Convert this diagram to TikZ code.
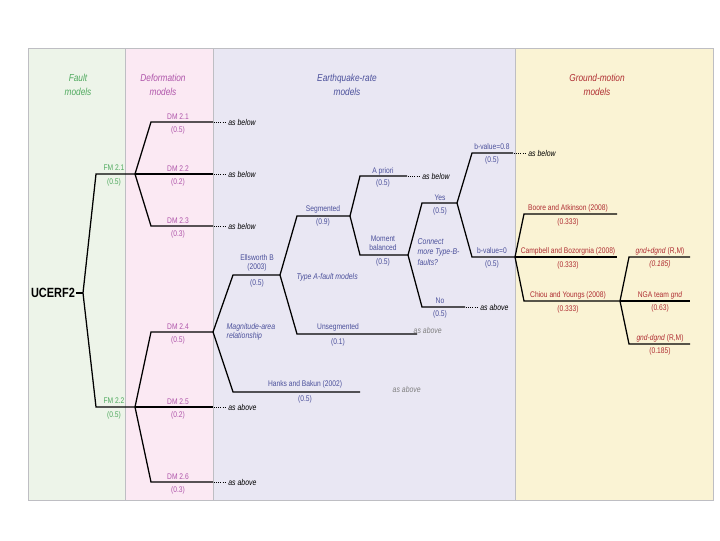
\documentclass[tikz,border=0pt]{standalone}
\usepackage{fontspec}
\setmainfont{Liberation Sans}[FakeStretch=0.82]
\usetikzlibrary{positioning}

%colori dei pannelli e dei testi
\definecolor{verdefondo}{RGB}{237,244,233}
\definecolor{rosafondo}{RGB}{251,233,243}
\definecolor{lilafondo}{RGB}{233,231,243}
\definecolor{giallofondo}{RGB}{250,243,212}
\definecolor{bordo}{RGB}{190,190,195}
\definecolor{verdetesto}{RGB}{80,170,95}
\definecolor{violatesto}{RGB}{175,85,170}
\definecolor{blutesto}{RGB}{75,80,155}
\definecolor{rossotesto}{RGB}{175,45,50}

\tikzset{
  ramo/.style={line width=0.9pt, black},
  etic/.style={font=\fontsize{5.8}{6.6}\selectfont, inner sep=0.3pt, align=center},
  titolo/.style={font=\fontsize{7.2}{9.5}\selectfont\itshape, align=center},
  nota/.style={font=\fontsize{6}{6.8}\selectfont\itshape, inner sep=0.3pt, anchor=west},
  puntini/.style={line width=0.6pt, dash pattern=on 0.5pt off 1pt},
}

\begin{document}
\begin{tikzpicture}[x=0.025cm, y=-0.025cm]
    \useasboundingbox (0,0) rectangle (720,540);

    %pannelli
    \draw[bordo, fill=verdefondo](28,48)rectangle(125,500);
    \draw[bordo, fill=rosafondo](125,48)rectangle(213,500);
    \draw[bordo, fill=lilafondo](213,48)rectangle(515,500);
    \draw[bordo, fill=giallofondo](515,48)rectangle(713,500);

    %titoli
    \node[titolo, verdetesto] (tfault) at (78,85) {Fault\\models};
    \node[titolo, violatesto] (tdef) at (163,85) {Deformation\\models};
    \node[titolo, blutesto] (teq) at (347,85) {Earthquake-rate\\models};
    \node[titolo, rossotesto] (tgm) at (597,85) {Ground-motion\\models};

    %radice
    \node[font=\fontsize{9.5}{10}\selectfont\bfseries, inner sep=0.5pt] (ucerf) at (53,293) {UCERF2};
    \coordinate (r) at (83,293);
    \draw[ramo](ucerf.east)--(r);

    %modelli di faglia
    \coordinate (fm1a) at (96,174); \coordinate (d1) at (135,174);
    \coordinate (fm2a) at (96,407); \coordinate (d2) at (135,407);
    \draw[ramo](r)--(fm1a)--(d1);
    \draw[ramo](r)--(fm2a)--(d2);
    \node[etic, verdetesto] (fm1) at (114,168) {FM 2.1};
    \node[etic, verdetesto] (fm1w) at (114,182) {(0.5)};
    \node[etic, verdetesto] (fm2) at (114,401) {FM 2.2};
    \node[etic, verdetesto] (fm2w) at (114,415) {(0.5)};

    %modelli di deformazione
    \coordinate (dm1a) at (151,122); \coordinate (dm1b) at (213,122);
    \coordinate (dm2b) at (213,174);
    \coordinate (dm3a) at (151,226); \coordinate (dm3b) at (213,226);
    \coordinate (dm4a) at (151,332); \coordinate (m) at (213,332);
    \coordinate (dm5b) at (213,407);
    \coordinate (dm6a) at (151,482); \coordinate (dm6b) at (213,482);
    \draw[ramo](d1)--(dm1a)--(dm1b);
    \draw[ramo](d1)--(dm2b);
    \draw[ramo](d1)--(dm3a)--(dm3b);
    \draw[ramo](d2)--(dm4a)--(m);
    \draw[ramo](d2)--(dm5b);
    \draw[ramo](d2)--(dm6a)--(dm6b);
    \foreach \n/\y/\w in {2.1/122/0.5, 2.2/174/0.2, 2.3/226/0.3, 2.4/332/0.5, 2.5/407/0.2, 2.6/482/0.3}{
        \node[etic, violatesto] at (178,\y-5.5) {DM \n};
        \node[etic, violatesto] at (178,\y+8.5) {(\w)};
    }
    %rimandi
    \foreach \p/\t in {dm1b/below, dm2b/below, dm3b/below, dm5b/above, dm6b/above}{
        \draw[puntini]([xshift=0.8pt]\p)--++(12,0) node[nota, xshift=1pt] {as \t};
    }

    %relazione magnitudo-area
    \coordinate (ea) at (233,275); \coordinate (t) at (280,275);
    \coordinate (ha) at (233,392); \coordinate (hb) at (360,392);
    \draw[ramo](m)--(ea)--(t);
    \draw[ramo](m)--(ha)--(hb);
    \node[etic, blutesto, anchor=west, font=\fontsize{6}{6.8}\selectfont\itshape, align=left] (magarea) at (226,332) {Magnitude-area\\relationship};
    \node[etic, blutesto] (ells) at (257,263) {Ellsworth B\\(2003)};
    \node[etic, blutesto] (ellsw) at (257,283) {(0.5)};
    \node[etic, blutesto] (hanks) at (305,384) {Hanks and Bakun (2002)};
    \node[etic, blutesto] (hanksw) at (305,399) {(0.5)};
    \node[nota, gray] (hanksn) at (392,389) {as above};

    %modelli faglie di tipo A
    \coordinate (sa) at (297,216); \coordinate (s) at (350,216);
    \coordinate (ua) at (297,334); \coordinate (ub) at (417,334);
    \draw[ramo](t)--(sa)--(s);
    \draw[ramo](t)--(ua)--(ub);
    \node[etic, blutesto, anchor=west, font=\fontsize{6}{6.8}\selectfont\itshape] (tipoa) at (296,277) {Type A-fault models};
    \node[etic, blutesto] (seg) at (323,209) {Segmented};
    \node[etic, blutesto] (segw) at (323,222) {(0.9)};
    \node[etic, blutesto] (unseg) at (338,327) {Unsegmented};
    \node[etic, blutesto] (unsegw) at (338,342) {(0.1)};
    \node[nota, gray] (unsegn) at (413,330) {as above};

    %a priori / bilanciato
    \coordinate (apa) at (360,176); \coordinate (apb) at (407,176);
    \coordinate (mba) at (360,255); \coordinate (mb) at (408,255);
    \draw[ramo](s)--(apa)--(apb);
    \draw[ramo](s)--(mba)--(mb);
    \node[etic, blutesto] (ap) at (383,171) {A priori};
    \node[etic, blutesto] (apw) at (383,183) {(0.5)};
    \node[etic, blutesto] (mom) at (383,243) {Moment\\balanced};
    \node[etic, blutesto] (momw) at (383,262) {(0.5)};
    \draw[puntini]([xshift=0.8pt]apb)--++(12,0) node[nota, xshift=1pt] {as below};

    %faglie di tipo B
    \coordinate (ya) at (422,203); \coordinate (y) at (457,203);
    \coordinate (na) at (422,307); \coordinate (nb) at (465,307);
    \draw[ramo](mb)--(ya)--(y);
    \draw[ramo](mb)--(na)--(nb);
    \node[etic, blutesto, anchor=west, align=left, font=\fontsize{6}{7.2}\selectfont\itshape] (conn) at (417,252) {Connect\\more Type-B-\\faults?};
    \node[etic, blutesto] (yes) at (440,198) {Yes};
    \node[etic, blutesto] (yesw) at (440,211) {(0.5)};
    \node[etic, blutesto] (no) at (440,301) {No};
    \node[etic, blutesto] (now) at (440,314) {(0.5)};
    \draw[puntini]([xshift=0.8pt]nb)--++(12,0) node[nota, xshift=1pt] {as above};

    %valori di b
    \coordinate (b8a) at (472,153); \coordinate (b8b) at (513,153);
    \coordinate (b0a) at (472,257); \coordinate (g) at (515,257);
    \draw[ramo](y)--(b8a)--(b8b);
    \draw[ramo](y)--(b0a)--(g);
    \node[etic, blutesto] (b8) at (492,147) {b-value=0.8};
    \node[etic, blutesto] (b8w) at (492,160) {(0.5)};
    \node[etic, blutesto] (b0) at (492,251) {b-value=0};
    \node[etic, blutesto] (b0w) at (492,264) {(0.5)};
    \draw[puntini]([xshift=0.8pt]b8b)--++(12,0) node[nota, xshift=1pt] {as below};

    %modelli di moto del suolo
    \coordinate (baa) at (524,214); \coordinate (bab) at (617,214);
    \coordinate (cbb) at (617,257);
    \coordinate (cya) at (524,301); \coordinate (c) at (620,301);
    \draw[ramo](g)--(baa)--(bab);
    \draw[ramo](g)--(cbb);
    \draw[ramo](g)--(cya)--(c);
    \node[etic, rossotesto] (ba) at (568,208) {Boore and Atkinson (2008)};
    \node[etic, rossotesto] (baw) at (568,222) {(0.333)};
    \node[etic, rossotesto] (cb) at (568,251) {Campbell and Bozorgnia (2008)};
    \node[etic, rossotesto] (cbw) at (568,265) {(0.333)};
    \node[etic, rossotesto] (cy) at (568,295) {Chiou and Youngs (2008)};
    \node[etic, rossotesto] (cyw) at (568,309) {(0.333)};

    %incertezza epistemica
    \coordinate (pa) at (629,257); \coordinate (pb) at (690,257);
    \coordinate (nga) at (690,301);
    \coordinate (qa) at (629,344); \coordinate (qb) at (690,344);
    \draw[ramo](c)--(pa)--(pb);
    \draw[ramo](c)--(nga);
    \draw[ramo](c)--(qa)--(qb);
    \node[etic, rossotesto] (piu) at (660,251) {\textit{gnd+dgnd} (R,M)};
    \node[etic, rossotesto] (piuw) at (660,264) {\textit{(0.185)}};
    \node[etic, rossotesto] (ngat) at (660,295) {NGA team \textit{gnd}};
    \node[etic, rossotesto] (ngaw) at (660,308) {(0.63)};
    \node[etic, rossotesto] (meno) at (660,338) {\textit{gnd-dgnd} (R,M)};
    \node[etic, rossotesto] (menow) at (660,351) {(0.185)};
\end{tikzpicture}
\end{document}
